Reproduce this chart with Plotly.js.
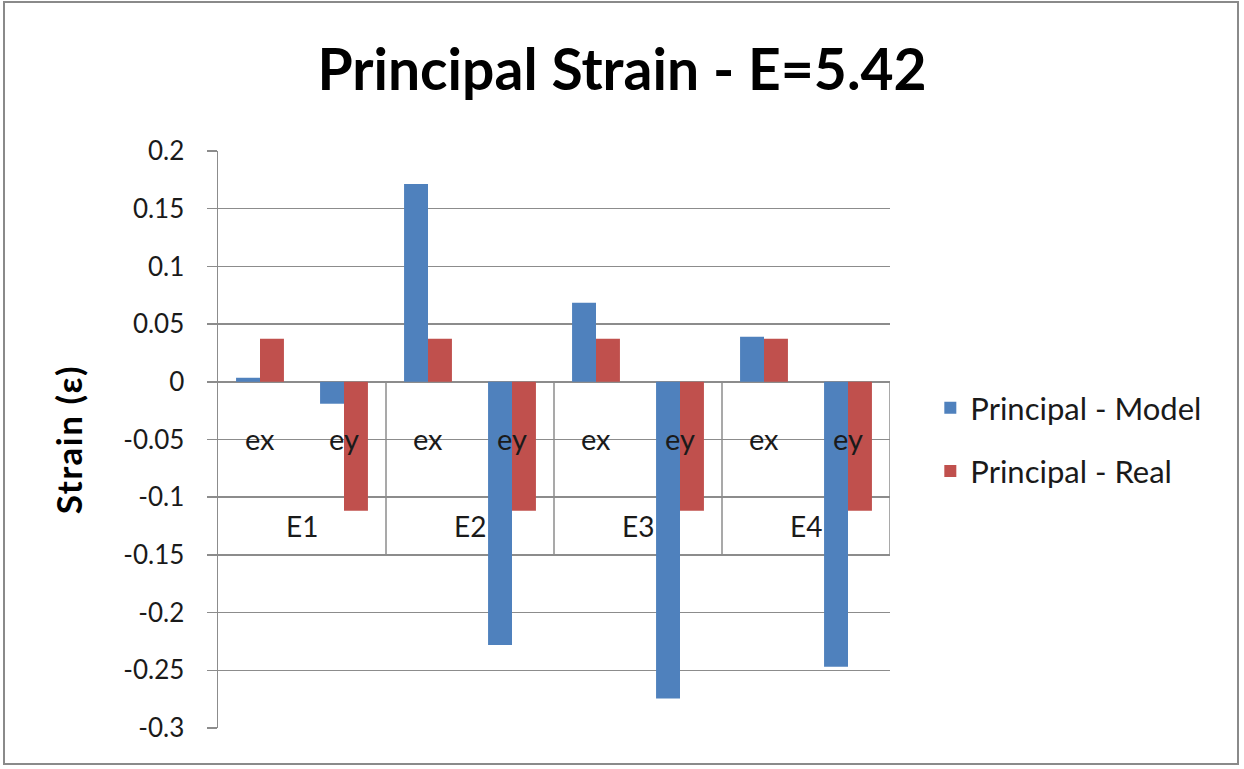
<!DOCTYPE html>
<html>
<head>
<meta charset="utf-8">
<script src="https://cdn.plot.ly/plotly-3.0.1.min.js"></script>
<style>
  html, body { margin: 0; padding: 0; background: #ffffff; }
  #wrap { position: relative; width: 1244px; height: 769px; }
  #chart { position: absolute; left: 0; top: 0; width: 1244px; height: 769px; }
  #frame {
    position: absolute; left: 3px; top: 1px; width: 1236px; height: 764px;
    border: 2px solid #8a8a8a; box-sizing: border-box; pointer-events: none;
  }
  #chart .ytitle { letter-spacing: 1.5px; }
</style>
</head>
<body>
<div id="wrap">
  <div id="chart"></div>
  <div id="frame"></div>
</div>
<script>
// Groups and strain components along the category axis
const groups = ["E1", "E1", "E2", "E2", "E3", "E3", "E4", "E4"];
const components = ["ex", "ey", "ex", "ey", "ex", "ey", "ex", "ey"];
const groupNames = ["E1", "E2", "E3", "E4"];

// Principal strain values
const modelStrain = [0.0035, -0.019, 0.1715, -0.228, 0.0685, -0.2745, 0.039, -0.247];
const realStrain = [0.0373, -0.1118, 0.0373, -0.1118, 0.0373, -0.1118, 0.0373, -0.1118];

const yTicks = [0.2, 0.15, 0.1, 0.05, 0, -0.05, -0.1, -0.15, -0.2, -0.25, -0.3];

const categories = groups.map((g, i) => g + " " + components[i]);

const FONT = "Lato, 'Open Sans', 'DejaVu Sans', sans-serif";
const GRID = "#8c8c8c";

const traces = [
  {
    type: "bar", name: "Principal - Model", x: categories, y: modelStrain,
    marker: { color: "#4F81BD" }, legendgroup: "a"
  },
  {
    type: "bar", name: "Principal - Real", x: categories, y: realStrain,
    marker: { color: "#C0504D" }, legendgroup: "b"
  }
];

// Category labels sit on the zero line, Excel style, with group dividers below it
const annotations = [];
components.forEach((c, i) => {
  annotations.push({
    x: categories[i], y: -0.05, xref: "x", yref: "y", text: c, showarrow: false,
    font: { family: FONT, size: 29, color: "#1a1a1a" }, yshift: 1
  });
});
groupNames.forEach((g, k) => {
  annotations.push({
    x: 2 * k + 0.5, y: -0.1248, xref: "x", yref: "y", text: g, showarrow: false,
    font: { family: FONT, size: 28, color: "#1a1a1a" }
  });
});

const shapes = [];
for (let k = 0; k < groupNames.length; k++) {
  shapes.push({
    type: "line", xref: "x", yref: "y", x0: 2 * k + 1.5, x1: 2 * k + 1.5, y0: 0, y1: -0.15,
    line: { color: GRID, width: 1.5 }, layer: "below"
  });
}

const layout = {
  width: 1244, height: 769, autosize: false,
  margin: { l: 218, r: 354, t: 151, b: 41 },
  paper_bgcolor: "#ffffff", plot_bgcolor: "#ffffff",
  title: {
    text: "<b>Principal Strain - E=5.42</b>",
    x: 0.5, xref: "container", xanchor: "center",
    y: 1 - 70 / 769, yref: "container", yanchor: "middle",
    font: { family: FONT, size: 57, color: "#000000" }
  },
  barmode: "group", bargap: 0.43, bargroupgap: 0,
  xaxis: {
    type: "category", categoryorder: "array", categoryarray: categories,
    range: [-0.5, 7.5], showticklabels: false, ticks: "", showgrid: false,
    zeroline: false, showline: false, fixedrange: true
  },
  yaxis: {
    range: [-0.3, 0.2], tickvals: yTicks, ticktext: yTicks.map(v => String(v)),
    ticks: "outside", ticklen: 10, tickcolor: GRID, tickwidth: 1.5,
    showgrid: true, gridcolor: GRID, gridwidth: 1.5,
    zeroline: true, zerolinecolor: GRID, zerolinewidth: 1.5,
    showline: true, linecolor: GRID, linewidth: 1.5,
    ticklabelstandoff: 17,
    tickfont: { family: FONT, size: 26, color: "#1a1a1a" },
    title: {
      text: "<b>Strain (ε)</b>", standoff: 30,
      font: { family: FONT, size: 35, color: "#000000" }
    },
    fixedrange: true
  },
  showlegend: true,
  legend: {
    x: 1.06, xanchor: "left", y: 0.5, yanchor: "middle",
    font: { family: FONT, size: 31, color: "#1a1a1a" },
    tracegroupgap: 20, traceorder: "grouped", bgcolor: "rgba(0,0,0,0)"
  },
  annotations: annotations,
  shapes: shapes
};

Plotly.newPlot("chart", traces, layout, { displayModeBar: false, staticPlot: true });
</script>
</body>
</html>
